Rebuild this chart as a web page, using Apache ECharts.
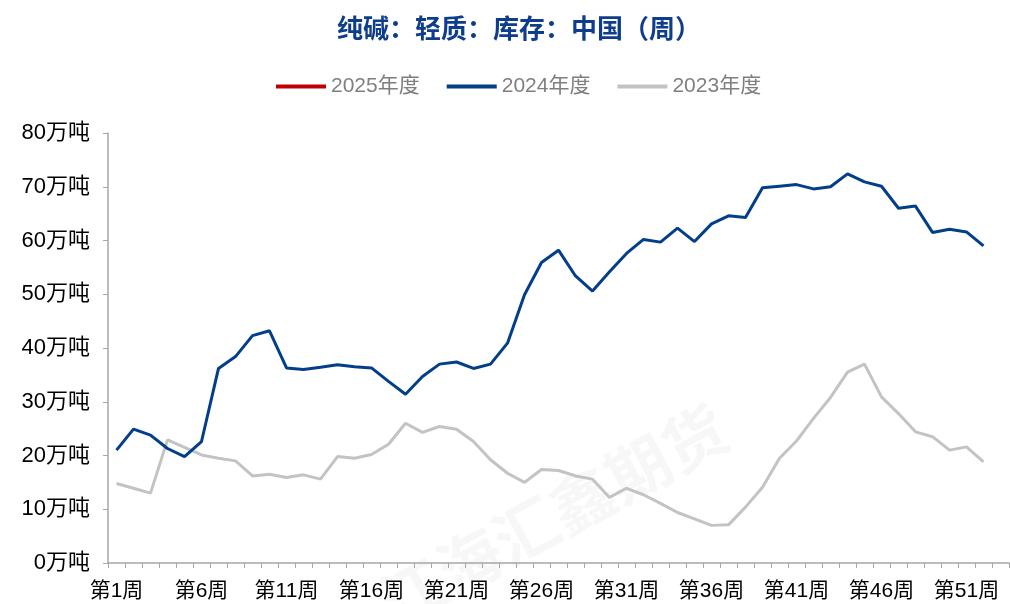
<!DOCTYPE html>
<html>
<head>
<meta charset="utf-8">
<script src="https://cdn.jsdelivr.net/npm/echarts@6/dist/echarts.min.js"></script>
<style>html,body{margin:0;padding:0;background:#fff;}#c{width:1010px;height:604px;}</style>
</head>
<body>
<div id="c"></div>
<script>
var weeks = [];
for (var i = 1; i <= 53; i++) weeks.push('第' + i + '周');
var yTicks = [0, 10, 20, 30, 40, 50, 60, 70, 80];
var s2025 = [];
var s2024 = [21.0, 24.9, 23.8, 21.3, 19.8, 22.6, 36.2, 38.4, 42.3, 43.2,
             36.3, 36.0, 36.4, 36.9, 36.5, 36.3, 33.8, 31.4, 34.7, 37.0,
             37.4, 36.2, 37.0, 40.9, 49.9, 55.9, 58.2, 53.4, 50.6, 54.2,
             57.6, 60.2, 59.7, 62.3, 59.8, 63.1, 64.6, 64.3, 69.8, 70.1,
             70.4, 69.6, 70.0, 72.4, 70.9, 70.1, 66.0, 66.4, 61.5, 62.1,
             61.6, 59.0];
var s2023 = [14.8, 13.9, 13.0, 22.9, 21.5, 20.1, 19.5, 19.0, 16.2, 16.5,
             15.9, 16.4, 15.6, 19.8, 19.5, 20.2, 22.1, 26.0, 24.3, 25.4,
             24.9, 22.6, 19.2, 16.7, 15.0, 17.4, 17.2, 16.2, 15.6, 12.2,
             13.9, 12.7, 11.1, 9.4, 8.2, 7.0, 7.1, 10.4, 14.1, 19.5,
             22.7, 26.9, 30.8, 35.5, 37.0, 30.9, 27.8, 24.4, 23.5, 21.0,
             21.6, 18.8];
var names = ['2025年度', '2024年度', '2023年度'];
var colors = ['#c00000', '#023e8a', '#c3c3c3'];
var FONT = '"Liberation Sans", "Noto Sans CJK SC", sans-serif';

var chart = echarts.init(document.getElementById('c'));
chart.setOption({
  backgroundColor: '#ffffff',
  animation: false,
  title: {
    text: '纯碱：轻质：库存：中国（周）',
    left: 332,
    top: 10,
    textStyle: { color: '#0d3d8c', fontSize: 26, fontWeight: 'bold', fontFamily: '"Noto Sans CJK SC"' }
  },
  legend: {
    top: 71,
    left: 271,
    itemWidth: 50,
    itemHeight: 4,
    itemGap: 27,
    icon: 'rect',
    data: names,
    textStyle: { color: '#7f7f7f', fontSize: 21, fontFamily: FONT }
  },
  grid: { left: 108, right: 1, top: 133, bottom: 41, containLabel: false },
  graphic: [
    {
      type: 'text', left: 370, top: 395, rotation: 0.5, z: 0,
      style: { text: '江海汇鑫期货', fill: 'rgba(0,0,0,0.03)', font: 'bold 64px "Noto Sans CJK SC"' }
    }
  ],
  xAxis: {
    type: 'category',
    data: weeks,
    boundaryGap: true,
    axisLine: { lineStyle: { color: '#a6a6a6', width: 1.5 } },
    axisTick: { show: true, interval: 0, length: 5, lineStyle: { color: '#a6a6a6' } },
    axisLabel: { interval: 4, color: '#000', fontSize: 21, margin: 18, fontFamily: FONT },
    splitLine: { show: false }
  },
  yAxis: {
    type: 'value',
    min: yTicks[0],
    max: yTicks[yTicks.length - 1],
    interval: 10,
    axisLine: { show: true, lineStyle: { color: '#a6a6a6', width: 1.5 } },
    axisTick: { show: true, length: 5, lineStyle: { color: '#a6a6a6' } },
    axisLabel: { color: '#000', fontSize: 22, margin: 18, fontFamily: FONT, formatter: function (v) { return v + '万吨'; } },
    splitLine: { show: false }
  },
  series: [
    { name: names[0], type: 'line', data: s2025, symbol: 'none', color: colors[0], lineStyle: { width: 3, color: colors[0] } },
    { name: names[1], type: 'line', data: s2024, symbol: 'none', color: colors[1], lineStyle: { width: 3, color: colors[1] }, z: 3 },
    { name: names[2], type: 'line', data: s2023, symbol: 'none', color: colors[2], lineStyle: { width: 3, color: colors[2] }, z: 2 }
  ]
});
</script>
</body>
</html>
